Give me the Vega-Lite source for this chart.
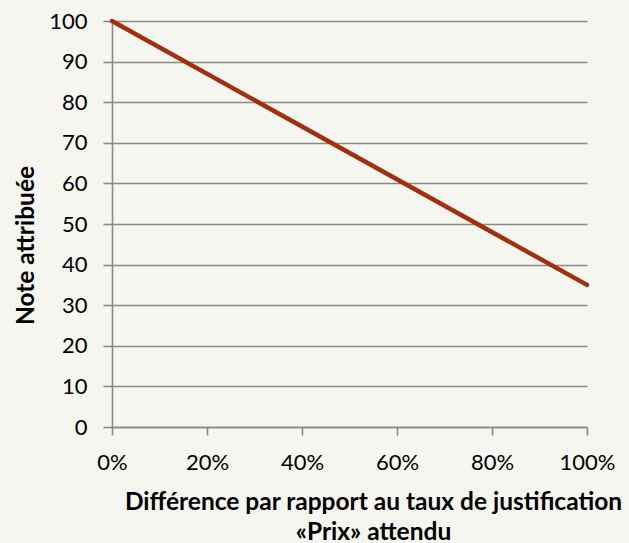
{
  "$schema": "https://vega.github.io/schema/vega-lite/v6.json",
  "width": 475,
  "height": 406,
  "autosize": {"type": "none"},
  "padding": {"left": 112, "top": 21, "right": 42, "bottom": 116},
  "background": "#f4f6ef",
  "config": {
    "view": {"stroke": null},
    "font": "Lato"
  },
  "data": {
    "values": [
      {"diff": 0, "note": 100},
      {"diff": 1, "note": 35}
    ]
  },
  "mark": {"type": "line", "color": "#a2300e", "strokeWidth": 4.5, "strokeCap": "round"},
  "encoding": {
    "x": {
      "field": "diff",
      "type": "quantitative",
      "scale": {"domain": [0, 1], "nice": false},
      "axis": {
        "format": "%",
        "values": [0, 0.2, 0.4, 0.6, 0.8, 1],
        "grid": false,
        "domainColor": "#898989",
        "domainWidth": 1.6,
        "tickColor": "#898989",
        "tickWidth": 1.6,
        "tickSize": 8,
        "labelFontSize": 22,
        "labelColor": "#000000",
        "labelPadding": 17,
        "labelFlush": false,
        "title": ["Différence par rapport au taux de justification", "«Prix» attendu"],
        "titleFontSize": 24.5,
        "titleFontWeight": "bold",
        "titleColor": "#000000",
        "titleLineHeight": 30,
        "titleX": 261,
        "titleY": 82,
        "titleAlign": "center",
        "titleBaseline": "alphabetic"
      }
    },
    "y": {
      "field": "note",
      "type": "quantitative",
      "scale": {"domain": [0, 100], "nice": false},
      "axis": {
        "values": [0, 10, 20, 30, 40, 50, 60, 70, 80, 90, 100],
        "grid": true,
        "gridColor": "#898989",
        "gridWidth": 1.6,
        "domainColor": "#898989",
        "domainWidth": 1.6,
        "tickColor": "#898989",
        "tickWidth": 1.6,
        "tickSize": 9,
        "labelFontSize": 22,
        "labelColor": "#000000",
        "labelPadding": 16,
        "labelFlush": false,
        "title": "Note attribuée",
        "titleFontSize": 24.5,
        "titleFontWeight": "bold",
        "titleColor": "#000000",
        "titleX": -79,
        "titleY": 224,
        "titleAngle": -90,
        "titleAlign": "center",
        "titleBaseline": "alphabetic"
      }
    }
  }
}
